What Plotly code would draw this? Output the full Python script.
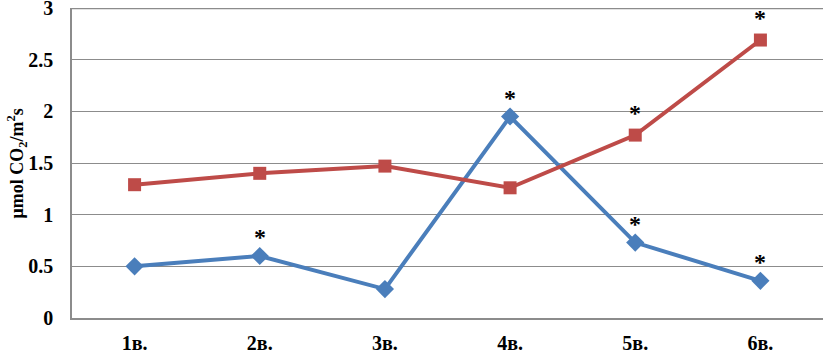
import plotly.graph_objects as go

categories = ["1в.", "2в.", "3в.", "4в.", "5в.", "6в."]
blue_values = [0.50, 0.60, 0.28, 1.95, 0.73, 0.36]
red_values = [1.29, 1.40, 1.47, 1.26, 1.77, 2.69]
blue_stars = [False, True, False, True, True, True]
red_stars = [False, False, False, False, True, True]
y_ticks = [0, 0.5, 1, 1.5, 2, 2.5, 3]
y_tick_labels = ["0", "0.5", "1", "1.5", "2", "2.5", "3"]
y_title = "μmol CO<sub>2</sub>/m<sup>2</sup>s"

BLUE = "#4A7EBB"
RED = "#BE4B48"
GRID = "#8C8C8C"
FONT = "Liberation Serif, Times New Roman, serif"

fig = go.Figure()
fig.add_trace(go.Scatter(
    x=categories, y=blue_values, mode="lines+markers",
    line=dict(color=BLUE, width=4),
    marker=dict(symbol="diamond", size=14, color=BLUE),
    showlegend=False, cliponaxis=False, hoverinfo="skip",
))
fig.add_trace(go.Scatter(
    x=categories, y=red_values, mode="lines+markers",
    line=dict(color=RED, width=4),
    marker=dict(symbol="square", size=13, color=RED),
    showlegend=False, cliponaxis=False, hoverinfo="skip",
))

annotations = []
for cat, v, s in zip(categories, blue_values, blue_stars):
    if s:
        annotations.append(dict(x=cat, y=v, text="*", showarrow=False, yshift=19,
                                font=dict(family=FONT, size=24, color="black", weight="bold")))
for cat, v, s in zip(categories, red_values, red_stars):
    if s:
        annotations.append(dict(x=cat, y=v, text="*", showarrow=False, yshift=22,
                                font=dict(family=FONT, size=24, color="black", weight="bold")))
annotations.append(dict(
    text=y_title, xref="paper", yref="paper", x=-0.074, y=0.5,
    xanchor="center", yanchor="middle", textangle=-90, showarrow=False,
    font=dict(family=FONT, size=18, color="black", weight="bold"),
))

# top gridline at the highest tick (plotly skips gridlines on the plot edge;
# the shape is clipped to the plot area, so draw it thicker to keep half visible)
shapes = [dict(type="line", xref="paper", yref="y", x0=0, x1=1,
               y0=y_ticks[-1], y1=y_ticks[-1], line=dict(color=GRID, width=2.6), layer="below")]

fig.update_layout(
    width=823, height=353,
    margin=dict(l=72, r=0, t=8, b=35),
    paper_bgcolor="white", plot_bgcolor="white",
    font=dict(family=FONT, color="black"),
    annotations=annotations,
    shapes=shapes,
    xaxis=dict(
        type="category", showgrid=False, showline=True, linecolor=GRID, linewidth=1.5,
        ticks="", automargin=False, ticklabelstandoff=6,
        tickfont=dict(family=FONT, size=20, color="black", weight="bold"),
        range=[-0.5, 5.5],
    ),
    yaxis=dict(
        range=[0, 3], tickvals=y_ticks, ticktext=y_tick_labels,
        showgrid=True, gridcolor=GRID, gridwidth=1.2,
        showline=True, linecolor=GRID, linewidth=1.5, zeroline=False,
        ticks="", automargin=False, ticklabelstandoff=13, ticklabeloverflow="allow",
        tickfont=dict(family=FONT, size=20, color="black", weight="bold"),
    ),
)

fig.write_html(
    "out.html",
    config={"displayModeBar": False},
    post_script="document.body.style.margin='0';document.body.style.overflow='hidden';",
)
